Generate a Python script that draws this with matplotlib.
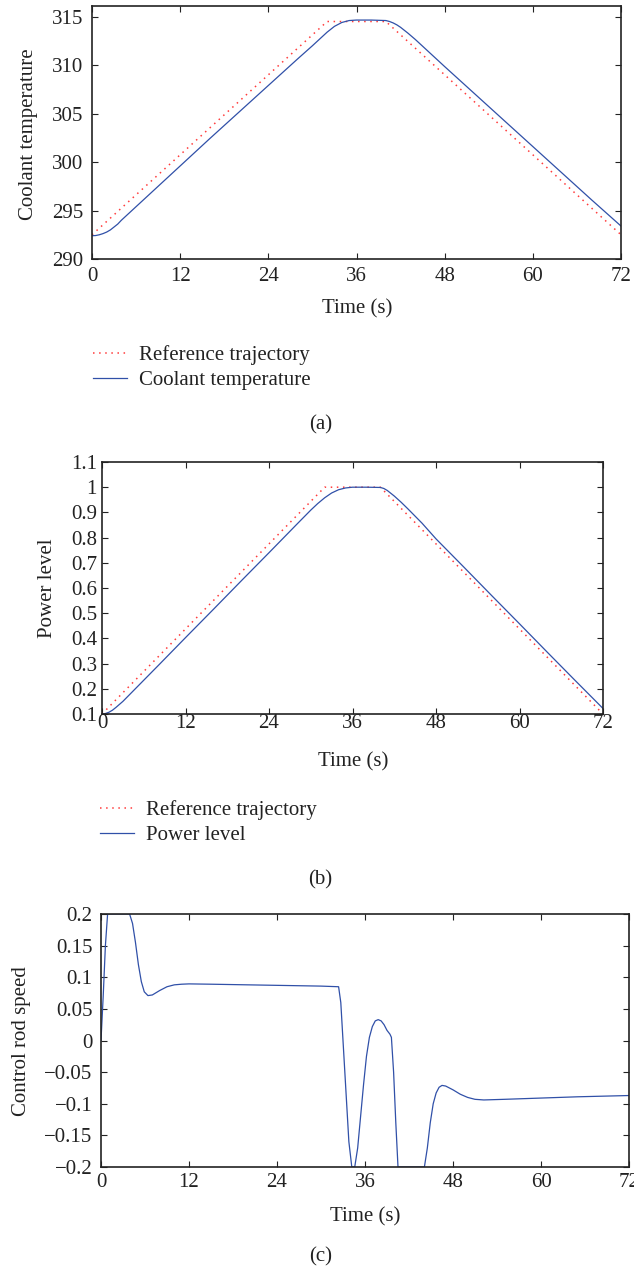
import numpy as np
import matplotlib.pyplot as plt

plt.rcParams['font.family'] = ['Liberation Serif', 'DejaVu Serif']
plt.rcParams['font.size'] = 15
FS = 15

# (a) coolant temperature
ref_time = [0, 32, 40, 72]
ref_temp = [292.5, 314.5, 314.5, 292.5]
temp_time = [0, 0.5, 1, 1.5, 2, 2.5, 3, 3.5, 4, 5, 6, 8, 10, 12, 16, 20, 24, 28, 30, 31,
             32, 33, 34, 35, 36, 38, 40, 40.5, 41, 41.5, 42, 43, 44, 45, 46, 48, 52, 56,
             60, 64, 68, 72]
temp_vals = [292.4, 292.42, 292.5, 292.62, 292.78, 293.0, 293.3, 293.6, 294.0, 294.7,
             295.4, 296.8, 298.2, 299.6, 302.4, 305.15, 307.9, 310.65, 312.0, 312.7,
             313.4, 314.0, 314.4, 314.6, 314.65, 314.65, 314.6, 314.5, 314.35, 314.15,
             313.9, 313.3, 312.65, 311.95, 311.25, 309.85, 307.1, 304.35, 301.6, 298.85,
             296.1, 293.4]

# (b) power level
ref_power = [0.1, 1.0, 1.0, 0.1]
power_time = [0, 0.5, 1, 1.5, 2, 3, 4, 5, 6, 8, 12, 16, 20, 24, 28, 30, 31, 32, 33, 34,
              35, 36, 38, 40, 40.5, 41, 42, 43, 44, 46, 48, 52, 56, 60, 64, 68, 72]
power_vals = [0.1, 0.102, 0.107, 0.115, 0.126, 0.15, 0.178, 0.206, 0.234, 0.29, 0.403,
              0.515, 0.628, 0.74, 0.853, 0.909, 0.935, 0.958, 0.977, 0.99, 0.997, 1.0,
              1.0, 0.999, 0.995, 0.987, 0.965, 0.94, 0.913, 0.857, 0.795, 0.683, 0.57,
              0.458, 0.345, 0.233, 0.122]

# (c) control rod speed
rod_time = [0, 0.3, 0.6, 0.9, 1.5, 3.9, 4.3, 4.7, 5.1, 5.5, 5.9, 6.4, 7.0, 8.0, 9.0,
            10.0, 11.0, 12.0, 15, 20, 25, 30, 32.4, 32.7, 33.0, 33.4, 33.8, 34.2, 34.6,
            35.0, 35.4, 35.8, 36.2, 36.6, 37.0, 37.4, 37.8, 38.2, 38.6, 39.0, 39.4, 39.6,
            39.9, 40.2, 40.5, 44.1, 44.5, 44.9, 45.3, 45.7, 46.1, 46.5, 47.0, 48.0, 49.0,
            50.0, 51.0, 52.2, 55, 60, 65, 72]
rod_vals = [0.0, 0.07, 0.15, 0.2, 0.2, 0.2, 0.185, 0.155, 0.12, 0.093, 0.077, 0.071,
            0.072, 0.079, 0.085, 0.088, 0.089, 0.0895, 0.089, 0.088, 0.087, 0.086, 0.085,
            0.06, 0.0, -0.08, -0.16, -0.2, -0.2, -0.17, -0.12, -0.07, -0.025, 0.005,
            0.022, 0.031, 0.033, 0.031, 0.025, 0.016, 0.01, 0.005, -0.05, -0.13, -0.2,
            -0.2, -0.17, -0.13, -0.1, -0.083, -0.074, -0.071, -0.072, -0.078, -0.085,
            -0.09, -0.093, -0.094, -0.093, -0.091, -0.089, -0.087]

time_ticks = [0, 12, 24, 36, 48, 60, 72]
temp_ticks = [290, 295, 300, 305, 310, 315]
power_ticks = [0.1, 0.2, 0.3, 0.4, 0.5, 0.6, 0.7, 0.8, 0.9, 1.0, 1.1]
power_labels = ['0.1', '0.2', '0.3', '0.4', '0.5', '0.6', '0.7', '0.8', '0.9', '1', '1.1']
rod_ticks = [-0.2, -0.15, -0.1, -0.05, 0, 0.05, 0.1, 0.15, 0.2]
rod_labels = ['\u22120.2', '\u22120.15', '\u22120.1', '\u22120.05', '0', '0.05', '0.1', '0.15', '0.2']

BLUE = '#3050a8'
RED = '#ff3b3b'
INK = '#222222'

W, H = 634, 1271
fig = plt.figure(figsize=(W / 100, H / 100), dpi=100)


def box(l, t, r, b):
    return [l / W, 1 - b / H, (r - l) / W, (b - t) / H]


def style(ax, xpad, ypad):
    ax.set_xlim(0, 72)
    ax.set_xticks(time_ticks)
    ax.tick_params(direction='in', top=True, right=True, length=4, width=0.8,
                   color=INK, labelcolor=INK, labelsize=FS)
    ax.tick_params(axis='x', pad=xpad)
    ax.tick_params(axis='y', pad=ypad)
    for s in ax.spines.values():
        s.set_linewidth(1.2)
        s.set_color(INK)


def ftext(x, y, s, **kw):
    fig.text(x / W, 1 - y / H, s, ha='center', va='center', color=INK, fontsize=FS, **kw)


def legend(ax, x, y):
    h, l = ax.get_legend_handles_labels()
    fig.legend(h, l, loc='upper left', bbox_to_anchor=(x / W, 1 - y / H), frameon=False,
               borderpad=0, borderaxespad=0, handlelength=1.65, handletextpad=0.55,
               labelspacing=0.28, fontsize=FS, labelcolor=INK)


# (a)
ax1 = fig.add_axes(box(92, 6, 621, 259))
ax1.plot(ref_time, ref_temp, color=RED, linestyle=(0, (1, 3)), lw=1.1, label='Reference trajectory')
ax1.plot(temp_time, temp_vals, color=BLUE, lw=0.9, label='Coolant temperature')
ax1.set_ylim(290, 316.1)
ax1.set_yticks(temp_ticks)
style(ax1, 5.5, 6.5)
ftext(29, 134, 'Coolant temperature', rotation=90)
ftext(357, 309, 'Time (s)')
legend(ax1, 93, 345)
ftext(321, 425, '(a)')

# (b)
ax2 = fig.add_axes(box(102, 462, 603, 714))
ax2.plot(ref_time, ref_power, color=RED, linestyle=(0, (1, 3)), lw=1.1, label='Reference trajectory')
ax2.plot(power_time, power_vals, color=BLUE, lw=0.9, label='Power level')
ax2.set_ylim(0.1, 1.1)
ax2.set_yticks(power_ticks)
ax2.set_yticklabels(power_labels)
style(ax2, 0, 3.6)
ftext(47, 588, 'Power level', rotation=90)
ftext(353, 762, 'Time (s)')
legend(ax2, 100, 800)
ftext(320, 880, '(b)')

# (c)
ax3 = fig.add_axes(box(101, 914, 629, 1167))
ax3.plot(rod_time, rod_vals, color=BLUE, lw=0.9)
ax3.set_ylim(-0.2, 0.2)
ax3.set_yticks(rod_ticks)
ax3.set_yticklabels(rod_labels)
style(ax3, 4.5, 6.0)
ftext(22, 1041, 'Control rod speed', rotation=90)
ftext(365, 1217, 'Time (s)')
ftext(321, 1257, '(c)')

fig.savefig('out.png', dpi=100)
